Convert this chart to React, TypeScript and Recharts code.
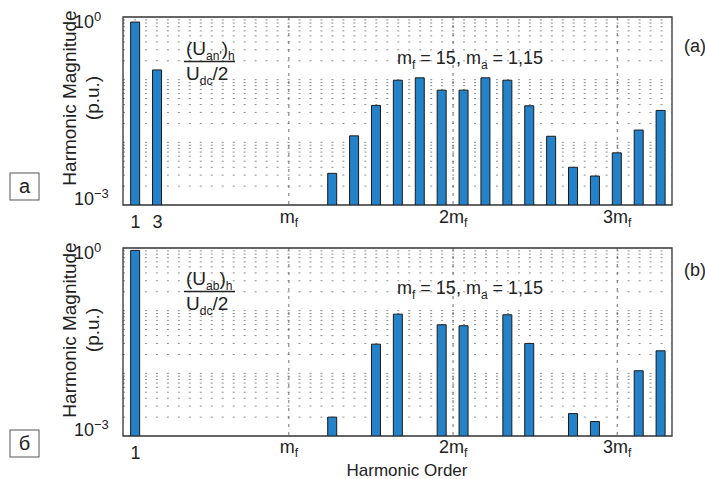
import {
  BarChart,
  Bar,
  XAxis,
  YAxis,
  CartesianGrid,
  ReferenceArea,
  Customized,
} from "recharts";

// harmonic spectra (p.u., log scale)
const ordersA = [1, 3, 19, 21, 23, 25, 27, 29, 31, 33, 35, 37, 39, 41, 43, 45, 47, 49];
const magnitudesA = [
  0.83, 0.143, 0.0032, 0.0127, 0.0388, 0.098, 0.107, 0.068, 0.068, 0.107, 0.098, 0.0383,
  0.0125, 0.004, 0.0029, 0.0068, 0.0157, 0.0323,
];

const ordersB = [1, 19, 23, 25, 29, 31, 35, 37, 41, 43, 47, 49];
const magnitudesB = [
  0.916, 0.002, 0.0292, 0.088, 0.0596, 0.0574, 0.086, 0.03, 0.00228, 0.0017, 0.011, 0.0229,
];

const ticksA = [1, 3, 15, 30, 45];
const ticksB = [1, 15, 30, 45];
const carrierOrders = [15, 30, 45];
const tickNames: Record<number, [string, string]> = {
  1: ["1", ""],
  3: ["3", ""],
  15: ["m", "f"],
  30: ["2m", "f"],
  45: ["3m", "f"],
};
const minorLevels = [
  0.002, 0.003, 0.004, 0.005, 0.006, 0.007, 0.008, 0.009, 0.01,
  0.02, 0.03, 0.04, 0.05, 0.06, 0.07, 0.08, 0.09, 0.1,
  0.2, 0.3, 0.4, 0.5, 0.6, 0.7, 0.8, 0.9,
];

const toRows = (orders: number[], mags: number[]) =>
  orders.map((h, i) => ({ order: h, mag: mags[i] }));

const FONT = "'Liberation Sans', Arial, sans-serif";
const BLUE = "#2482c8";

const XTick = ({ x, y, payload, numDy, mfDy }: any) => {
  const [main, sub] = tickNames[payload.value] || [String(payload.value), ""];
  return (
    <text
      x={x}
      y={y + (sub ? mfDy : numDy)}
      textAnchor="middle"
      fontSize={18}
      fill="#222"
      fontFamily={FONT}
    >
      <tspan>{main}</tspan>
      {sub && (
        <tspan dy={4} fontSize={12}>
          {sub}
        </tspan>
      )}
    </text>
  );
};

const YTick = ({ y, payload }: any) => {
  const top = payload.value >= 1;
  return (
    <text x={74} y={top ? y + 10.5 : y} fontSize={18} fill="#222" fontFamily={FONT}>
      <tspan>10</tspan>
      <tspan dy={-7} fontSize={13}>
        {top ? "0" : "\u22123"}
      </tspan>
    </text>
  );
};

const Sub = ({ children, dy = 5 }: any) => (
  <tspan dy={dy} fontSize={12}>
    {children}
  </tspan>
);

const PanelText = ({ label, box, ratio, tag, tagY, titleY }: any) => (
  <g fontFamily={FONT} fill="#222">
    {/* y axis title */}
    <text transform={`translate(76, ${titleY}) rotate(-90)`} textAnchor="middle" fontSize={19}>
      Harmonic Magnitude
    </text>
    <text transform={`translate(99, ${titleY}) rotate(-90)`} textAnchor="middle" fontSize={19}>
      (p.u.)
    </text>
    {/* fraction */}
    <text x={186} y={ratio} fontSize={19}>
      <tspan>(U</tspan>
      <Sub>{label}</Sub>
      <tspan dy={-5}>)</tspan>
      <Sub>h</Sub>
    </text>
    <line x1={184} x2={235} y1={ratio + 6.5} y2={ratio + 6.5} stroke="#222" strokeWidth={1.3} />
    <text x={186} y={ratio + 25} fontSize={19}>
      <tspan>U</tspan>
      <Sub>dc</Sub>
      <tspan dy={-5}>/2</tspan>
    </text>
    {/* parameters */}
    <text x={397} y={ratio + 9} fontSize={18}>
      <tspan>m</tspan>
      <Sub>f</Sub>
      <tspan dy={-5}> = 15, m</tspan>
      <Sub>a</Sub>
      <tspan dy={-5}> = 1,15</tspan>
    </text>
    <text x={684} y={tagY} fontSize={18}>
      {tag}
    </text>
    <rect x={10} y={box} width={29} height={27} fill="none" stroke="#555" strokeWidth={1} />
    <text x={24.5} y={box + 20} textAnchor="middle" fontSize={20}>
      {tag === "(a)" ? "a" : "\u0431"}
    </text>
  </g>
);

const Panel = ({ rows, ticks, height, bottom, text, xLabel, numDy, mfDy }: any) => (
  <BarChart
    width={705}
    height={height}
    data={rows}
    margin={{ top: 17, right: 33, bottom: 0, left: 0 }}
    barSize={9}
  >
    <CartesianGrid
      vertical={false}
      horizontalValues={minorLevels}
      stroke="#8c8c8c"
      strokeDasharray="2 8.97"
    />
    <CartesianGrid
      horizontal={false}
      verticalValues={carrierOrders}
      stroke="#6e6e6e"
      strokeDasharray="3 5"
    />
    <XAxis
      dataKey="order"
      type="number"
      domain={[-0.15, 50]}
      ticks={ticks}
      allowDataOverflow
      axisLine={false}
      tickLine={false}
      tickSize={0}
      tick={<XTick numDy={numDy} mfDy={mfDy} />}
      height={bottom}
      interval={0}
    />
    <YAxis
      type="number"
      scale="log"
      domain={[0.001, 1]}
      ticks={[0.001, 1]}
      allowDataOverflow
      axisLine={false}
      tickLine={false}
      tickSize={0}
      tick={<YTick />}
      width={123}
      interval={0}
    />
    <Bar dataKey="mag" fill={BLUE} stroke="#1a1a1a" strokeWidth={1} isAnimationActive={false} />
    <ReferenceArea
      x1={-0.15}
      x2={50}
      y1={0.001}
      y2={1}
      fill="none"
      fillOpacity={0}
      stroke="#333"
      strokeWidth={1.3}
      ifOverflow="visible"
    />
    <Customized component={() => text} />
    {xLabel && (
      <Customized
        component={() => (
          <text x={407} y={245} textAnchor="middle" fontSize={17} fill="#222" fontFamily={FONT}>
            Harmonic Order
          </text>
        )}
      />
    )}
  </BarChart>
);

export default function App() {
  return (
    <div style={{ position: "absolute", left: 0, top: 0, width: 705, height: 479, background: "#fff" }}>
      <div style={{ position: "absolute", left: 0, top: 0 }}>
        <Panel
          rows={toRows(ordersA, magnitudesA)}
          ticks={ticksA}
          height={242}
          bottom={37}
          numDy={21}
          mfDy={16}
          text={<PanelText label="an'" box={173} ratio={55} tag="(a)" tagY={52} titleY={98} />}
        />
      </div>
      <div style={{ position: "absolute", left: 0, top: 231 }}>
        <Panel
          rows={toRows(ordersB, magnitudesB)}
          ticks={ticksB}
          height={248}
          bottom={43}
          numDy={21}
          mfDy={15}
          xLabel
          text={<PanelText label="ab" box={199} ratio={54} tag="(b)" tagY={45} titleY={99} />}
        />
      </div>
    </div>
  );
}
